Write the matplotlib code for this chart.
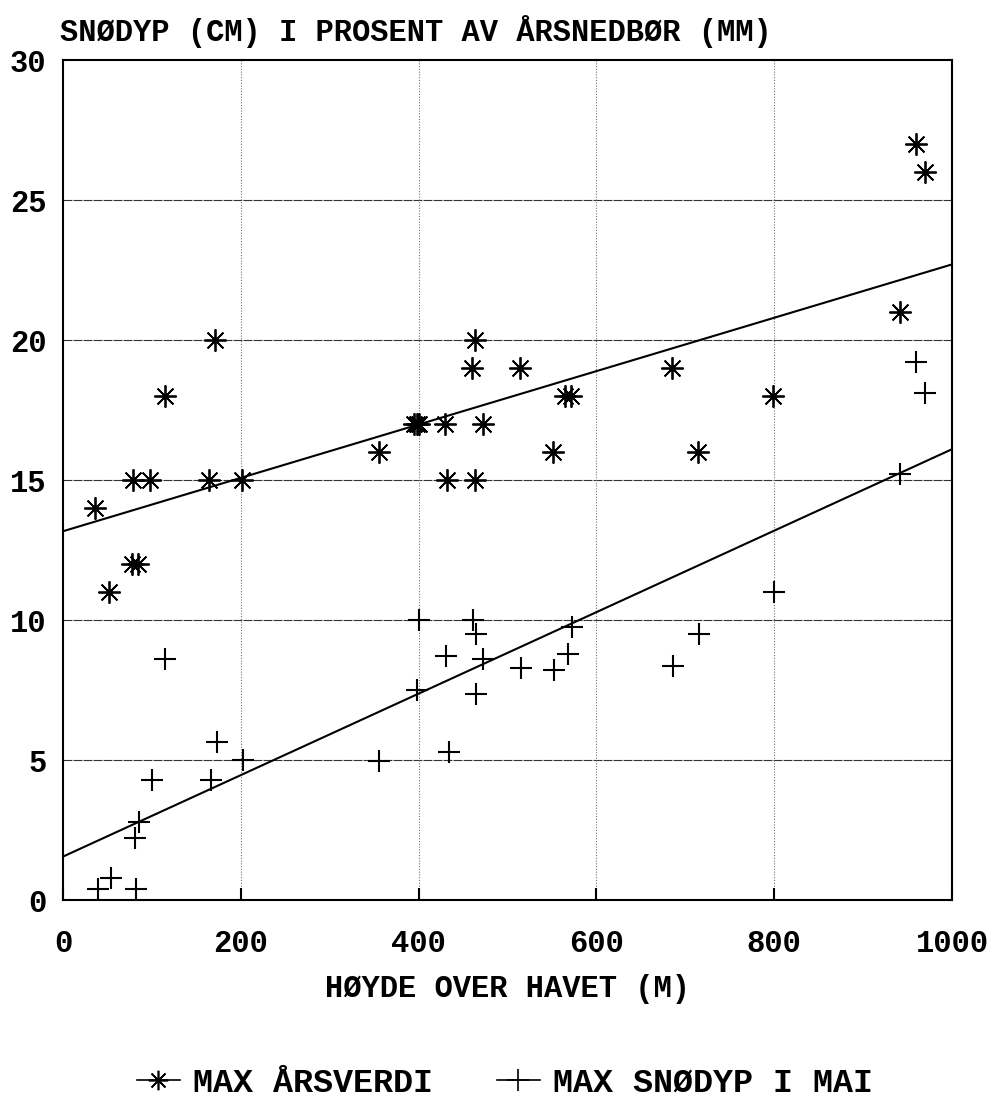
import matplotlib
matplotlib.use("Agg")
import matplotlib.pyplot as plt
from matplotlib.lines import Line2D

plt.rcParams['font.family'] = ['Liberation Mono', 'DejaVu Sans Mono']
plt.rcParams['font.weight'] = 'bold'

# Max snødyp over året (stjerner)
hoyde_aar = [36, 52, 78, 84, 79, 98, 115, 164, 171, 201,
             355, 395, 398, 401, 430, 432, 460, 463, 463, 472,
             514, 551, 565, 571, 685, 714, 799, 942, 960, 970]
snodyp_aar = [14.0, 11.0, 12.0, 12.0, 15.0, 15.0, 18.0, 15.0, 20.0, 15.0,
              16.0, 17.0, 17.0, 17.0, 17.0, 15.0, 19.0, 20.0, 15.0, 17.0,
              19.0, 16.0, 18.0, 18.0, 19.0, 16.0, 18.0, 21.0, 27.0, 26.0]

# Max snødyp i mai (kryss)
hoyde_mai = [39, 54, 82, 81, 86, 100, 115, 166, 173, 202,
             356, 398, 400, 431, 434, 461, 465, 465, 472, 515,
             552, 568, 572, 686, 715, 800, 941, 960, 970]
snodyp_mai = [0.4, 0.8, 0.4, 2.2, 2.8, 4.3, 8.6, 4.3, 5.65, 5.0,
              4.95, 7.5, 10.0, 8.7, 5.3, 10.0, 9.5, 7.35, 8.6, 8.3,
              8.2, 8.8, 9.75, 8.35, 9.5, 11.0, 15.2, 19.2, 18.1]

# Regresjonslinjer (lest av figuren)
linje_x = [0, 1000]
linje_aar = [13.17, 22.7]
linje_mai = [1.55, 16.1]

fig = plt.figure(figsize=(9.94, 10.97), dpi=100)
ax = fig.add_axes([63 / 994, 1 - 900 / 1097, (952 - 63) / 994, (900 - 60) / 1097])

star = (8, 2, 0)
ax.plot(hoyde_aar, snodyp_aar, linestyle='none', marker=star, markersize=16,
        markeredgewidth=1.3, color='black', zorder=3)
ax.plot(hoyde_mai, snodyp_mai, linestyle='none', marker='+', markersize=16,
        markeredgewidth=1.5, color='black', zorder=3)
ax.plot(linje_x, linje_aar, color='black', linewidth=1.5, zorder=2)
ax.plot(linje_x, linje_mai, color='black', linewidth=1.5, zorder=2)

ax.set_xlim(0, 1000)
ax.set_ylim(0, 30)
ax.set_xticks([0, 200, 400, 600, 800, 1000])
ax.set_yticks([0, 5, 10, 15, 20, 25, 30])

# rutenett: vannrett nesten heltrukket, loddrett prikket
for yv in [5, 10, 15, 20, 25]:
    ax.axhline(yv, color='0.2', linewidth=0.8, linestyle=(0, (8, 1)), zorder=1)
for xv in [200, 400, 600, 800]:
    ax.axvline(xv, color='0.45', linewidth=0.8, linestyle=(0, (1, 1.5)), zorder=1)

for s in ax.spines.values():
    s.set_linewidth(1.5)

ax.tick_params(axis='x', direction='in', length=9, width=1.5, pad=21, labelsize=22)
ax.tick_params(axis='y', direction='in', length=0, pad=12, labelsize=22)
ax.set_xlabel("HØYDE OVER HAVET (M)", fontsize=22, fontweight='bold', labelpad=11)

fig.text(60 / 994, 1 - 32 / 1097, "SNØDYP (CM) I PROSENT AV ÅRSNEDBØR (MM)",
         fontsize=22, ha='left', va='center')

handles = [Line2D([], [], color='black', linewidth=1.2, marker=star, markersize=14, markeredgewidth=1.2),
           Line2D([], [], color='black', linewidth=1.2, marker='+', markersize=16, markeredgewidth=1.2)]
fig.legend(handles, ["MAX ÅRSVERDI", "MAX SNØDYP I MAI"], loc='center',
           bbox_to_anchor=(505 / 994, 1 - 1083 / 1097), ncol=2, frameon=False,
           fontsize=24, handlelength=1.3, handletextpad=0.4, columnspacing=1.9,
           borderpad=0, borderaxespad=0)

fig.savefig("out.png", dpi=100)
